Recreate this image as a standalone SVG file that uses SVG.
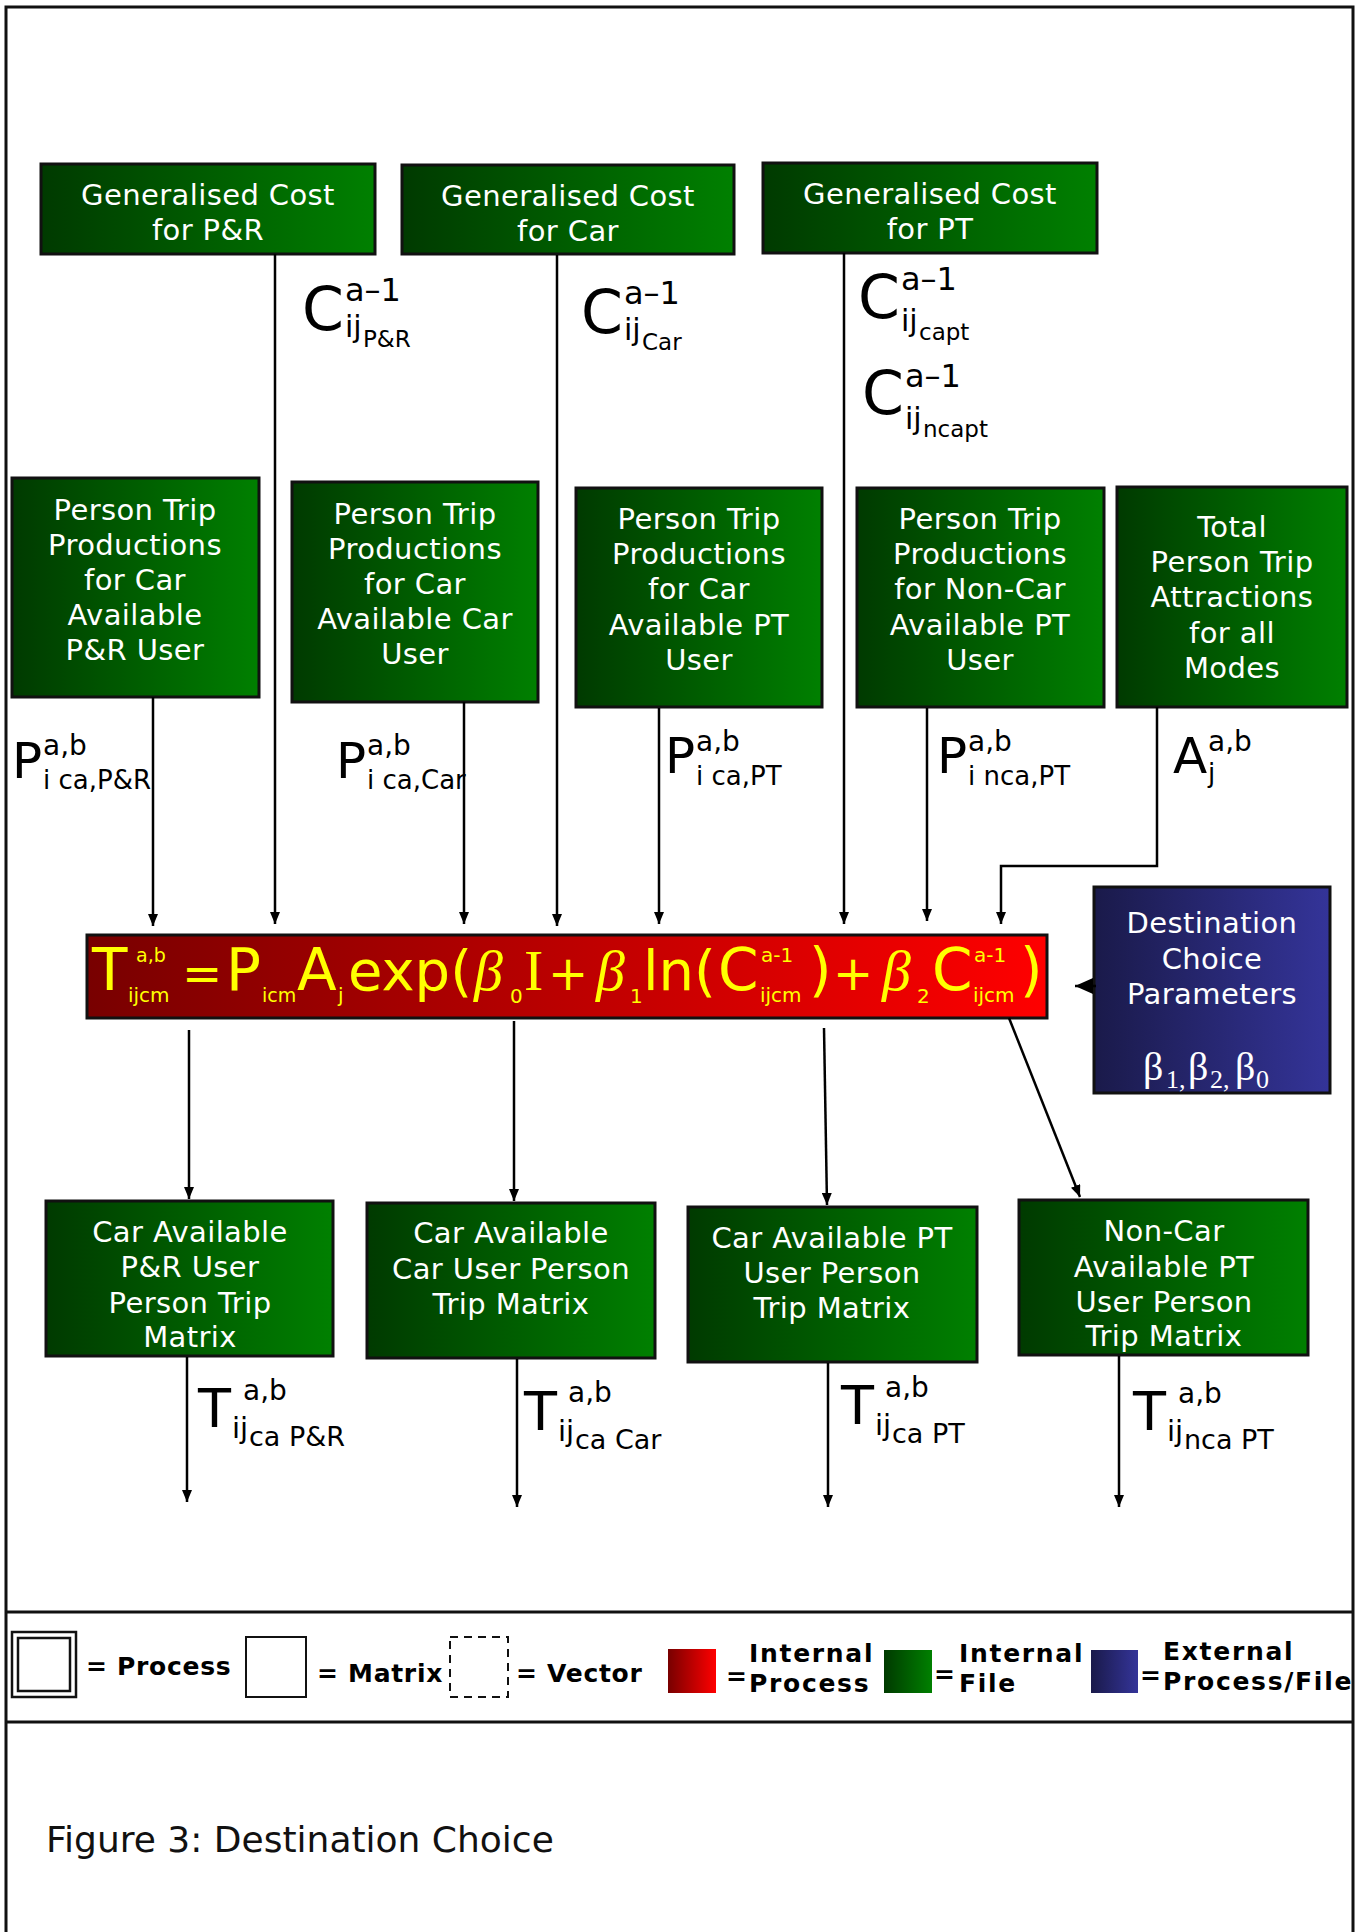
<svg xmlns="http://www.w3.org/2000/svg" width="1365" height="1932" viewBox="0 0 1365 1932">
<defs>
<linearGradient id="gGreen" x1="0" y1="0" x2="1" y2="0"><stop offset="0" stop-color="#003a00"/><stop offset="1" stop-color="#008000"/></linearGradient>
<linearGradient id="gRed" x1="0" y1="0" x2="1" y2="0"><stop offset="0" stop-color="#780000"/><stop offset="1" stop-color="#ff0000"/></linearGradient>
<linearGradient id="gBlue" x1="0" y1="0" x2="1" y2="0"><stop offset="0" stop-color="#1a1a4a"/><stop offset="1" stop-color="#343499"/></linearGradient>
<marker id="ah" viewBox="0 0 12 10" refX="12" refY="5" markerWidth="12" markerHeight="10" markerUnits="userSpaceOnUse" orient="auto"><path d="M0,0 L12,5 L0,10 z" fill="#000"/></marker>
<marker id="ahBig" viewBox="0 0 18 16" refX="18" refY="8" markerWidth="18" markerHeight="16" markerUnits="userSpaceOnUse" orient="auto"><path d="M0,0 L18,8 L0,16 z" fill="#000"/></marker>
<style>
.gbox{fill:url(#gGreen);stroke:#111;stroke-width:3}
.bt{font-family:'DejaVu Sans',Verdana,sans-serif;font-size:29px;letter-spacing:0.4px;fill:#fff;text-anchor:middle}
.lbl{font-family:'DejaVu Sans',sans-serif;fill:#000}
.fm{font-family:'DejaVu Sans',sans-serif;fill:#ffff00}
.fb{font-family:'Liberation Serif','Times New Roman',serif;font-style:italic;fill:#ffff00}
.fs{font-family:'Liberation Serif','Times New Roman',serif;fill:#ffff00}
.conn path{fill:none;stroke:#000;stroke-width:2.5}
.leg{font-family:'DejaVu Sans',Verdana,sans-serif;font-weight:bold;font-size:25px;letter-spacing:0.7px;fill:#000}
.leg2{font-family:'DejaVu Sans',Verdana,sans-serif;font-weight:bold;font-size:25px;letter-spacing:1.7px;fill:#000}
.dcpb{font-family:'Liberation Serif','Times New Roman',serif;fill:#fff}
</style>
</defs>
<rect x="0" y="0" width="1365" height="1932" fill="#fff"/>
<rect x="6" y="7" width="1347" height="1945" fill="none" stroke="#111" stroke-width="3"/>

<!-- Top boxes -->
<g id="gc-pr"><rect class="gbox" x="41" y="164" width="334" height="90"/><text class="bt" x="208" y="205">Generalised Cost</text><text class="bt" x="208" y="240">for P&amp;R</text></g>
<g id="gc-car"><rect class="gbox" x="402" y="165" width="332" height="89"/><text class="bt" x="568" y="206">Generalised Cost</text><text class="bt" x="568" y="241">for Car</text></g>
<g id="gc-pt"><rect class="gbox" x="763" y="163" width="334" height="90"/><text class="bt" x="930" y="204">Generalised Cost</text><text class="bt" x="930" y="239">for PT</text></g>

<!-- Middle boxes -->
<g id="ptp-pr"><rect class="gbox" x="12" y="478" width="247" height="219"/>
<text class="bt" x="135" y="520">Person Trip</text><text class="bt" x="135" y="555">Productions</text><text class="bt" x="135" y="590">for Car</text><text class="bt" x="135" y="625">Available</text><text class="bt" x="135" y="660">P&amp;R User</text></g>
<g id="ptp-car"><rect class="gbox" x="292" y="482" width="246" height="220"/>
<text class="bt" x="415" y="524">Person Trip</text><text class="bt" x="415" y="559">Productions</text><text class="bt" x="415" y="594">for Car</text><text class="bt" x="415" y="629">Available Car</text><text class="bt" x="415" y="664">User</text></g>
<g id="ptp-capt"><rect class="gbox" x="576" y="488" width="246" height="219"/>
<text class="bt" x="699" y="529">Person Trip</text><text class="bt" x="699" y="564">Productions</text><text class="bt" x="699" y="599">for Car</text><text class="bt" x="699" y="635">Available PT</text><text class="bt" x="699" y="670">User</text></g>
<g id="ptp-ncapt"><rect class="gbox" x="857" y="488" width="247" height="219"/>
<text class="bt" x="980" y="529">Person Trip</text><text class="bt" x="980" y="564">Productions</text><text class="bt" x="980" y="599">for Non-Car</text><text class="bt" x="980" y="635">Available PT</text><text class="bt" x="980" y="670">User</text></g>
<g id="attr"><rect class="gbox" x="1117" y="487" width="230" height="220"/>
<text class="bt" x="1232" y="537">Total</text><text class="bt" x="1232" y="572">Person Trip</text><text class="bt" x="1232" y="607">Attractions</text><text class="bt" x="1232" y="643">for all</text><text class="bt" x="1232" y="678">Modes</text></g>

<!-- Formula process -->
<g id="formula"><rect x="87" y="935" width="960" height="83" fill="url(#gRed)" stroke="#111" stroke-width="3"/>
<text class="fm" font-size="58" x="92" y="990">T</text>
<text class="fm" font-size="19" x="136" y="962">a,b</text>
<text class="fm" font-size="20" x="128" y="1002">ijcm</text>
<text class="fm" font-size="48" x="182" y="990">=</text>
<text class="fm" font-size="58" x="226" y="990">P</text>
<text class="fm" font-size="19" x="262" y="1002">icm</text>
<text class="fm" font-size="58" x="297" y="990">A</text>
<text class="fm" font-size="20" x="338" y="1002">j</text>
<text class="fm" font-size="56" x="348" y="990">exp(</text>
<text class="fb" font-size="58" x="474" y="990">β</text>
<text class="fm" font-size="20" x="510" y="1003">0</text>
<text class="fs" font-size="58" x="524" y="990">I</text>
<text class="fm" font-size="48" x="548" y="990">+</text>
<text class="fb" font-size="58" x="596" y="990">β</text>
<text class="fm" font-size="20" x="630" y="1003">1</text>
<text class="fm" font-size="56" x="643" y="990">ln(</text>
<text class="fm" font-size="58" x="718" y="990">C</text>
<text class="fm" font-size="20" x="761" y="962">a-1</text>
<text class="fm" font-size="20" x="760" y="1002">ijcm</text>
<text class="fm" font-size="58" x="809" y="990">)</text>
<text class="fm" font-size="48" x="833" y="990">+</text>
<text class="fb" font-size="58" x="882" y="990">β</text>
<text class="fm" font-size="20" x="917" y="1003">2</text>
<text class="fm" font-size="58" x="932" y="990">C</text>
<text class="fm" font-size="20" x="974" y="962">a-1</text>
<text class="fm" font-size="20" x="973" y="1002">ijcm</text>
<text class="fm" font-size="58" x="1020" y="990">)</text>
</g>

<!-- Destination choice parameters -->
<g id="dcp"><rect x="1094" y="887" width="236" height="206" fill="url(#gBlue)" stroke="#111" stroke-width="3"/>
<text class="bt" x="1212" y="933">Destination</text><text class="bt" x="1212" y="969">Choice</text><text class="bt" x="1212" y="1004">Parameters</text>
<text class="dcpb" font-size="40" x="1143" y="1080">β<tspan x="1166" y="1088" font-size="26">1,</tspan><tspan x="1188" y="1080">β</tspan><tspan x="1210" y="1088" font-size="26">2,</tspan><tspan x="1235" y="1080">β</tspan><tspan x="1256" y="1088" font-size="26">0</tspan></text>
</g>

<!-- Bottom boxes -->
<g id="tm-pr"><rect class="gbox" x="46" y="1201" width="287" height="155"/>
<text class="bt" x="190" y="1242">Car Available</text><text class="bt" x="190" y="1277">P&amp;R User</text><text class="bt" x="190" y="1313">Person Trip</text><text class="bt" x="190" y="1347">Matrix</text></g>
<g id="tm-car"><rect class="gbox" x="367" y="1203" width="288" height="155"/>
<text class="bt" x="511" y="1243">Car Available</text><text class="bt" x="511" y="1279">Car User Person</text><text class="bt" x="511" y="1314">Trip Matrix</text></g>
<g id="tm-capt"><rect class="gbox" x="688" y="1207" width="289" height="155"/>
<text class="bt" x="832" y="1248">Car Available PT</text><text class="bt" x="832" y="1283">User Person</text><text class="bt" x="832" y="1318">Trip Matrix</text></g>
<g id="tm-ncapt"><rect class="gbox" x="1019" y="1200" width="289" height="155"/>
<text class="bt" x="1164" y="1241">Non-Car</text><text class="bt" x="1164" y="1277">Available PT</text><text class="bt" x="1164" y="1312">User Person</text><text class="bt" x="1164" y="1346">Trip Matrix</text></g>

<!-- Connectors -->
<g id="connectors" class="conn">
<path d="M275,254 V924" marker-end="url(#ah)"/>
<path d="M557,255 V926" marker-end="url(#ah)"/>
<path d="M844,253 V924" marker-end="url(#ah)"/>
<path d="M153,697 V926" marker-end="url(#ah)"/>
<path d="M464,702 V924" marker-end="url(#ah)"/>
<path d="M659,708 V924" marker-end="url(#ah)"/>
<path d="M927,708 V921" marker-end="url(#ah)"/>
<path d="M1157,707 V866 H1001 V924" marker-end="url(#ah)"/>
<path d="M1096,986 H1075" marker-end="url(#ahBig)"/>
<path d="M189,1030 V1199" marker-end="url(#ah)"/>
<path d="M514,1021 V1201" marker-end="url(#ah)"/>
<path d="M824,1028 L827,1205" marker-end="url(#ah)"/>
<path d="M1009,1018 L1080,1197" marker-end="url(#ah)"/>
<path d="M187,1357 V1502" marker-end="url(#ah)"/>
<path d="M517,1359 V1507" marker-end="url(#ah)"/>
<path d="M828,1363 V1507" marker-end="url(#ah)"/>
<path d="M1119,1356 V1507" marker-end="url(#ah)"/>
</g>

<!-- Connector labels -->
<g id="labels" class="lbl">
<text font-size="60" x="302" y="330">C<tspan x="345" y="301" font-size="32">a–1</tspan><tspan x="345" y="337" font-size="30">ij</tspan><tspan x="363" y="347" font-size="23">P&amp;R</tspan></text>
<text font-size="60" x="581" y="333">C<tspan x="624" y="304" font-size="32">a–1</tspan><tspan x="624" y="340" font-size="30">ij</tspan><tspan x="642" y="350" font-size="23">Car</tspan></text>
<text font-size="60" x="858" y="318">C<tspan x="901" y="290" font-size="32">a–1</tspan><tspan x="901" y="331" font-size="30">ij</tspan><tspan x="919" y="340" font-size="23">capt</tspan></text>
<text font-size="60" x="862" y="414">C<tspan x="905" y="387" font-size="32">a–1</tspan><tspan x="905" y="429" font-size="30">ij</tspan><tspan x="923" y="437" font-size="23">ncapt</tspan></text>

<text font-size="50" x="12" y="778">P<tspan x="43" y="755" font-size="28">a,b</tspan><tspan x="43" y="789" font-size="26">i ca,P&amp;R</tspan></text>
<text font-size="50" x="336" y="778">P<tspan x="367" y="755" font-size="28">a,b</tspan><tspan x="367" y="789" font-size="26">i ca,Car</tspan></text>
<text font-size="50" x="665" y="773">P<tspan x="696" y="751" font-size="28">a,b</tspan><tspan x="696" y="785" font-size="26">i ca,PT</tspan></text>
<text font-size="50" x="937" y="773">P<tspan x="968" y="751" font-size="28">a,b</tspan><tspan x="968" y="785" font-size="26">i nca,PT</tspan></text>
<text font-size="50" x="1173" y="773">A<tspan x="1208" y="751" font-size="28">a,b</tspan><tspan x="1208" y="782" font-size="26">j</tspan></text>

<text font-size="54" x="198" y="1427">T<tspan x="243" y="1400" font-size="28">a,b</tspan><tspan x="232" y="1438" font-size="29">ij</tspan><tspan x="249" y="1446" font-size="27">ca P&amp;R</tspan></text>
<text font-size="54" x="524" y="1430">T<tspan x="568" y="1402" font-size="28">a,b</tspan><tspan x="558" y="1441" font-size="29">ij</tspan><tspan x="575" y="1449" font-size="27">ca Car</tspan></text>
<text font-size="54" x="841" y="1424">T<tspan x="885" y="1397" font-size="28">a,b</tspan><tspan x="875" y="1435" font-size="29">ij</tspan><tspan x="892" y="1443" font-size="27">ca PT</tspan></text>
<text font-size="54" x="1133" y="1430">T<tspan x="1178" y="1403" font-size="28">a,b</tspan><tspan x="1167" y="1441" font-size="29">ij</tspan><tspan x="1184" y="1449" font-size="27">nca PT</tspan></text>
</g>

<!-- Legend -->
<g id="legend">
<path d="M6,1612 H1353 M6,1722 H1353" stroke="#111" stroke-width="3" fill="none"/>
<rect x="12" y="1632" width="64" height="65" fill="none" stroke="#111" stroke-width="2.5"/>
<rect x="18" y="1638" width="52" height="53" fill="none" stroke="#111" stroke-width="2.5"/>
<text class="leg" x="86" y="1675">= Process</text>
<rect x="246" y="1637" width="60" height="60" fill="none" stroke="#111" stroke-width="2"/>
<text class="leg" x="317" y="1682">= Matrix</text>
<rect x="450" y="1637" width="58" height="60" fill="none" stroke="#111" stroke-width="2" stroke-dasharray="8,6"/>
<text class="leg" x="516" y="1682">= Vector</text>
<rect x="668" y="1649" width="48" height="44" fill="url(#gRed)"/>
<text class="leg" x="726" y="1685">=</text><text class="leg2" x="749" y="1662">Internal</text><text class="leg2" x="749" y="1692">Process</text>
<rect x="884" y="1650" width="48" height="43" fill="url(#gGreen)"/>
<text class="leg" x="934" y="1683">=</text><text class="leg2" x="959" y="1662">Internal</text><text class="leg2" x="959" y="1692">File</text>
<rect x="1091" y="1650" width="47" height="43" fill="url(#gBlue)"/>
<text class="leg" x="1140" y="1684">=</text><text class="leg2" x="1163" y="1660">External</text><text class="leg2" x="1163" y="1690">Process/File</text>
</g>

<g id="caption"><text font-family="'DejaVu Sans',Verdana,sans-serif" font-size="36" fill="#111" x="46" y="1852">Figure 3: Destination Choice</text></g>
</svg>
